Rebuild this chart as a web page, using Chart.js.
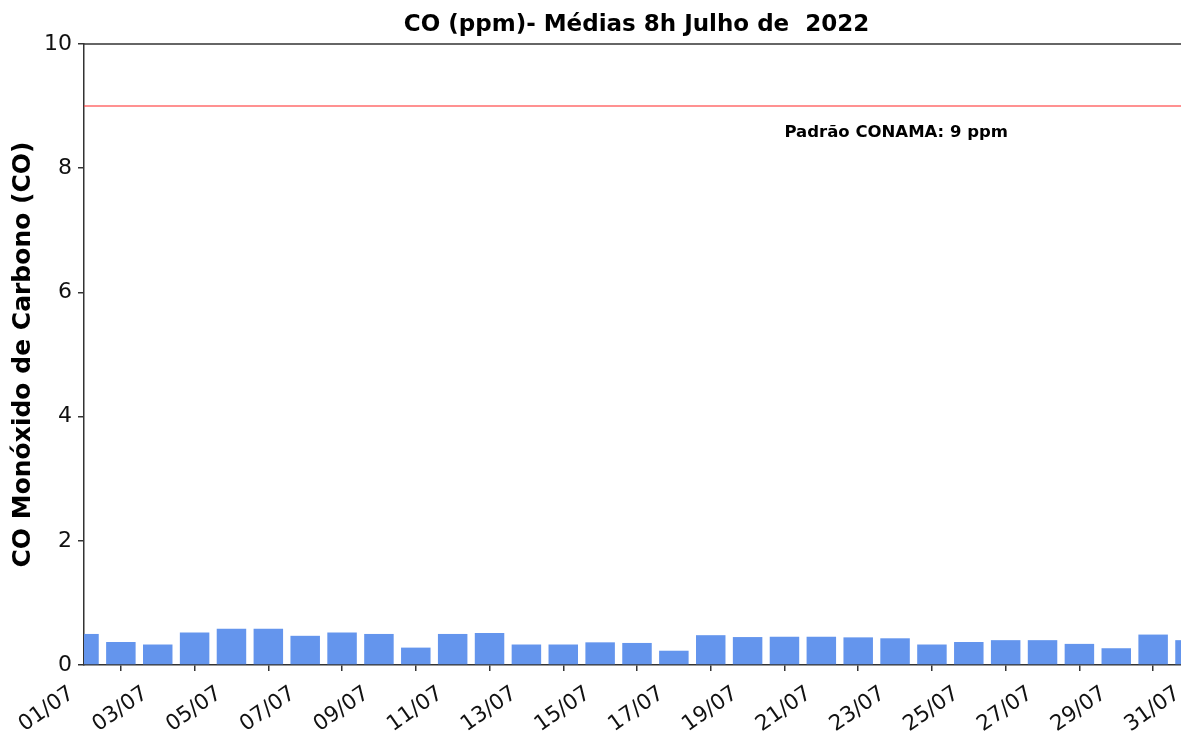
<html>
<head>
<meta charset="utf-8">
<script src="https://cdn.jsdelivr.net/npm/chart.js@4.4.0/dist/chart.umd.min.js"></script>
</head>
<body style="margin:0; background:#fff; overflow:hidden;">
<div style="width:1273px; height:733px;">
    <canvas id="grafico" width="1273" height="733"></canvas>
</div>
<script>
    // dias de julho 2022
    const dias = ['01/07','02/07','03/07','04/07','05/07','06/07','07/07','08/07','09/07','10/07',
                  '11/07','12/07','13/07','14/07','15/07','16/07','17/07','18/07','19/07','20/07',
                  '21/07','22/07','23/07','24/07','25/07','26/07','27/07','28/07','29/07','30/07','31/07'];
    // medias 8h de CO (ppm)
    const mediasCO = [0.50, 0.37, 0.33, 0.525, 0.585, 0.585, 0.47, 0.525, 0.50, 0.28,
                      0.50, 0.515, 0.33, 0.33, 0.365, 0.355, 0.23, 0.48, 0.45, 0.455,
                      0.455, 0.445, 0.43, 0.33, 0.37, 0.40, 0.40, 0.34, 0.27, 0.49, 0.40];
    const yTicks = [0, 2, 4, 6, 8, 10];
    const padraoConama = 9;
    const textoPadrao = 'Padrão CONAMA: 9 ppm';

    const corEixo = '#333';
    const fonte = 'DejaVu Sans';
    const larguraCanvas = 1273;

    const molduraTexto = {
        id: 'molduraTexto',
        afterDatasetsDraw(chart) {
            const ctx = chart.ctx;
            const a = chart.chartArea;
            const x = chart.scales.x, y = chart.scales.y;
            ctx.save();
            // top spine
            ctx.strokeStyle = corEixo;
            ctx.lineWidth = 1.5;
            ctx.beginPath();
            ctx.moveTo(a.left, a.top);
            ctx.lineTo(a.right, a.top);
            ctx.stroke();
            // texto do padrao
            ctx.fillStyle = '#000';
            ctx.font = 'bold 16.5px ' + fonte;
            ctx.textAlign = 'left';
            ctx.textBaseline = 'alphabetic';
            ctx.fillText(textoPadrao, x.getPixelForValue(19), y.getPixelForValue(8.5));
            ctx.restore();
        }
    };

    new Chart(document.getElementById('grafico'), {
        type: 'bar',
        data: {
            labels: dias,
            datasets: [
                {
                    type: 'line',
                    data: [{x: dias[0], y: padraoConama}, {x: dias[dias.length - 1], y: padraoConama}],
                    borderColor: 'rgba(255, 60, 60, 0.75)',
                    borderWidth: 1.5,
                    pointRadius: 0,
                    fill: false
                },
                {
                    data: mediasCO,
                    backgroundColor: '#6495ED',
                    barPercentage: 0.8,
                    categoryPercentage: 1.0
                }
            ]
        },
        options: {
            responsive: false,
            animation: false,
            layout: { padding: 0 },
            plugins: {
                legend: { display: false },
                tooltip: { enabled: false },
                title: {
                    display: true,
                    text: 'CO (ppm)- Médias 8h Julho de  2022',
                    color: '#000',
                    font: { family: fonte, size: 23, weight: 'bold', lineHeight: 1.2 },
                    padding: { top: 11.5, bottom: 4.9 }
                }
            },
            scales: {
                x: {
                    offset: false,
                    border: { color: corEixo, width: 1.5 },
                    grid: { drawOnChartArea: false, tickLength: 6, color: corEixo, lineWidth: 1.5 },
                    ticks: {
                        autoSkip: false,
                        maxRotation: 35,
                        minRotation: 35,
                        padding: 10,
                        labelOffset: -12,
                        color: '#111',
                        font: { family: fonte, size: 21.5 },
                        callback: function (val, i) { return i % 2 === 0 ? this.getLabelForValue(val) : null; }
                    },
                    afterFit(scale) {
                        scale.height = 68;
                        scale.paddingLeft = 0;
                        scale.paddingRight = larguraCanvas - 1190;
                    }
                },
                y: {
                    min: 0,
                    max: 10,
                    border: { color: corEixo, width: 1.5 },
                    grid: { drawOnChartArea: false, tickLength: 6, color: corEixo, lineWidth: 1.5 },
                    afterBuildTicks(scale) { scale.ticks = yTicks.map(v => ({ value: v })); },
                    ticks: {
                        padding: 6,
                        color: '#111',
                        font: { family: fonte, size: 22 }
                    },
                    title: {
                        display: true,
                        text: 'CO Monóxido de Carbono (CO)',
                        color: '#000',
                        font: { family: fonte, size: 25, weight: 'bold', lineHeight: 1.2 },
                        padding: { top: 8, bottom: 0 }
                    },
                    afterFit(scale) {
                        scale.width = 84;
                        scale.paddingTop = 0;
                        scale.paddingBottom = 0;
                    }
                }
            }
        },
        plugins: [molduraTexto]
    });
</script>
</body>
</html>
